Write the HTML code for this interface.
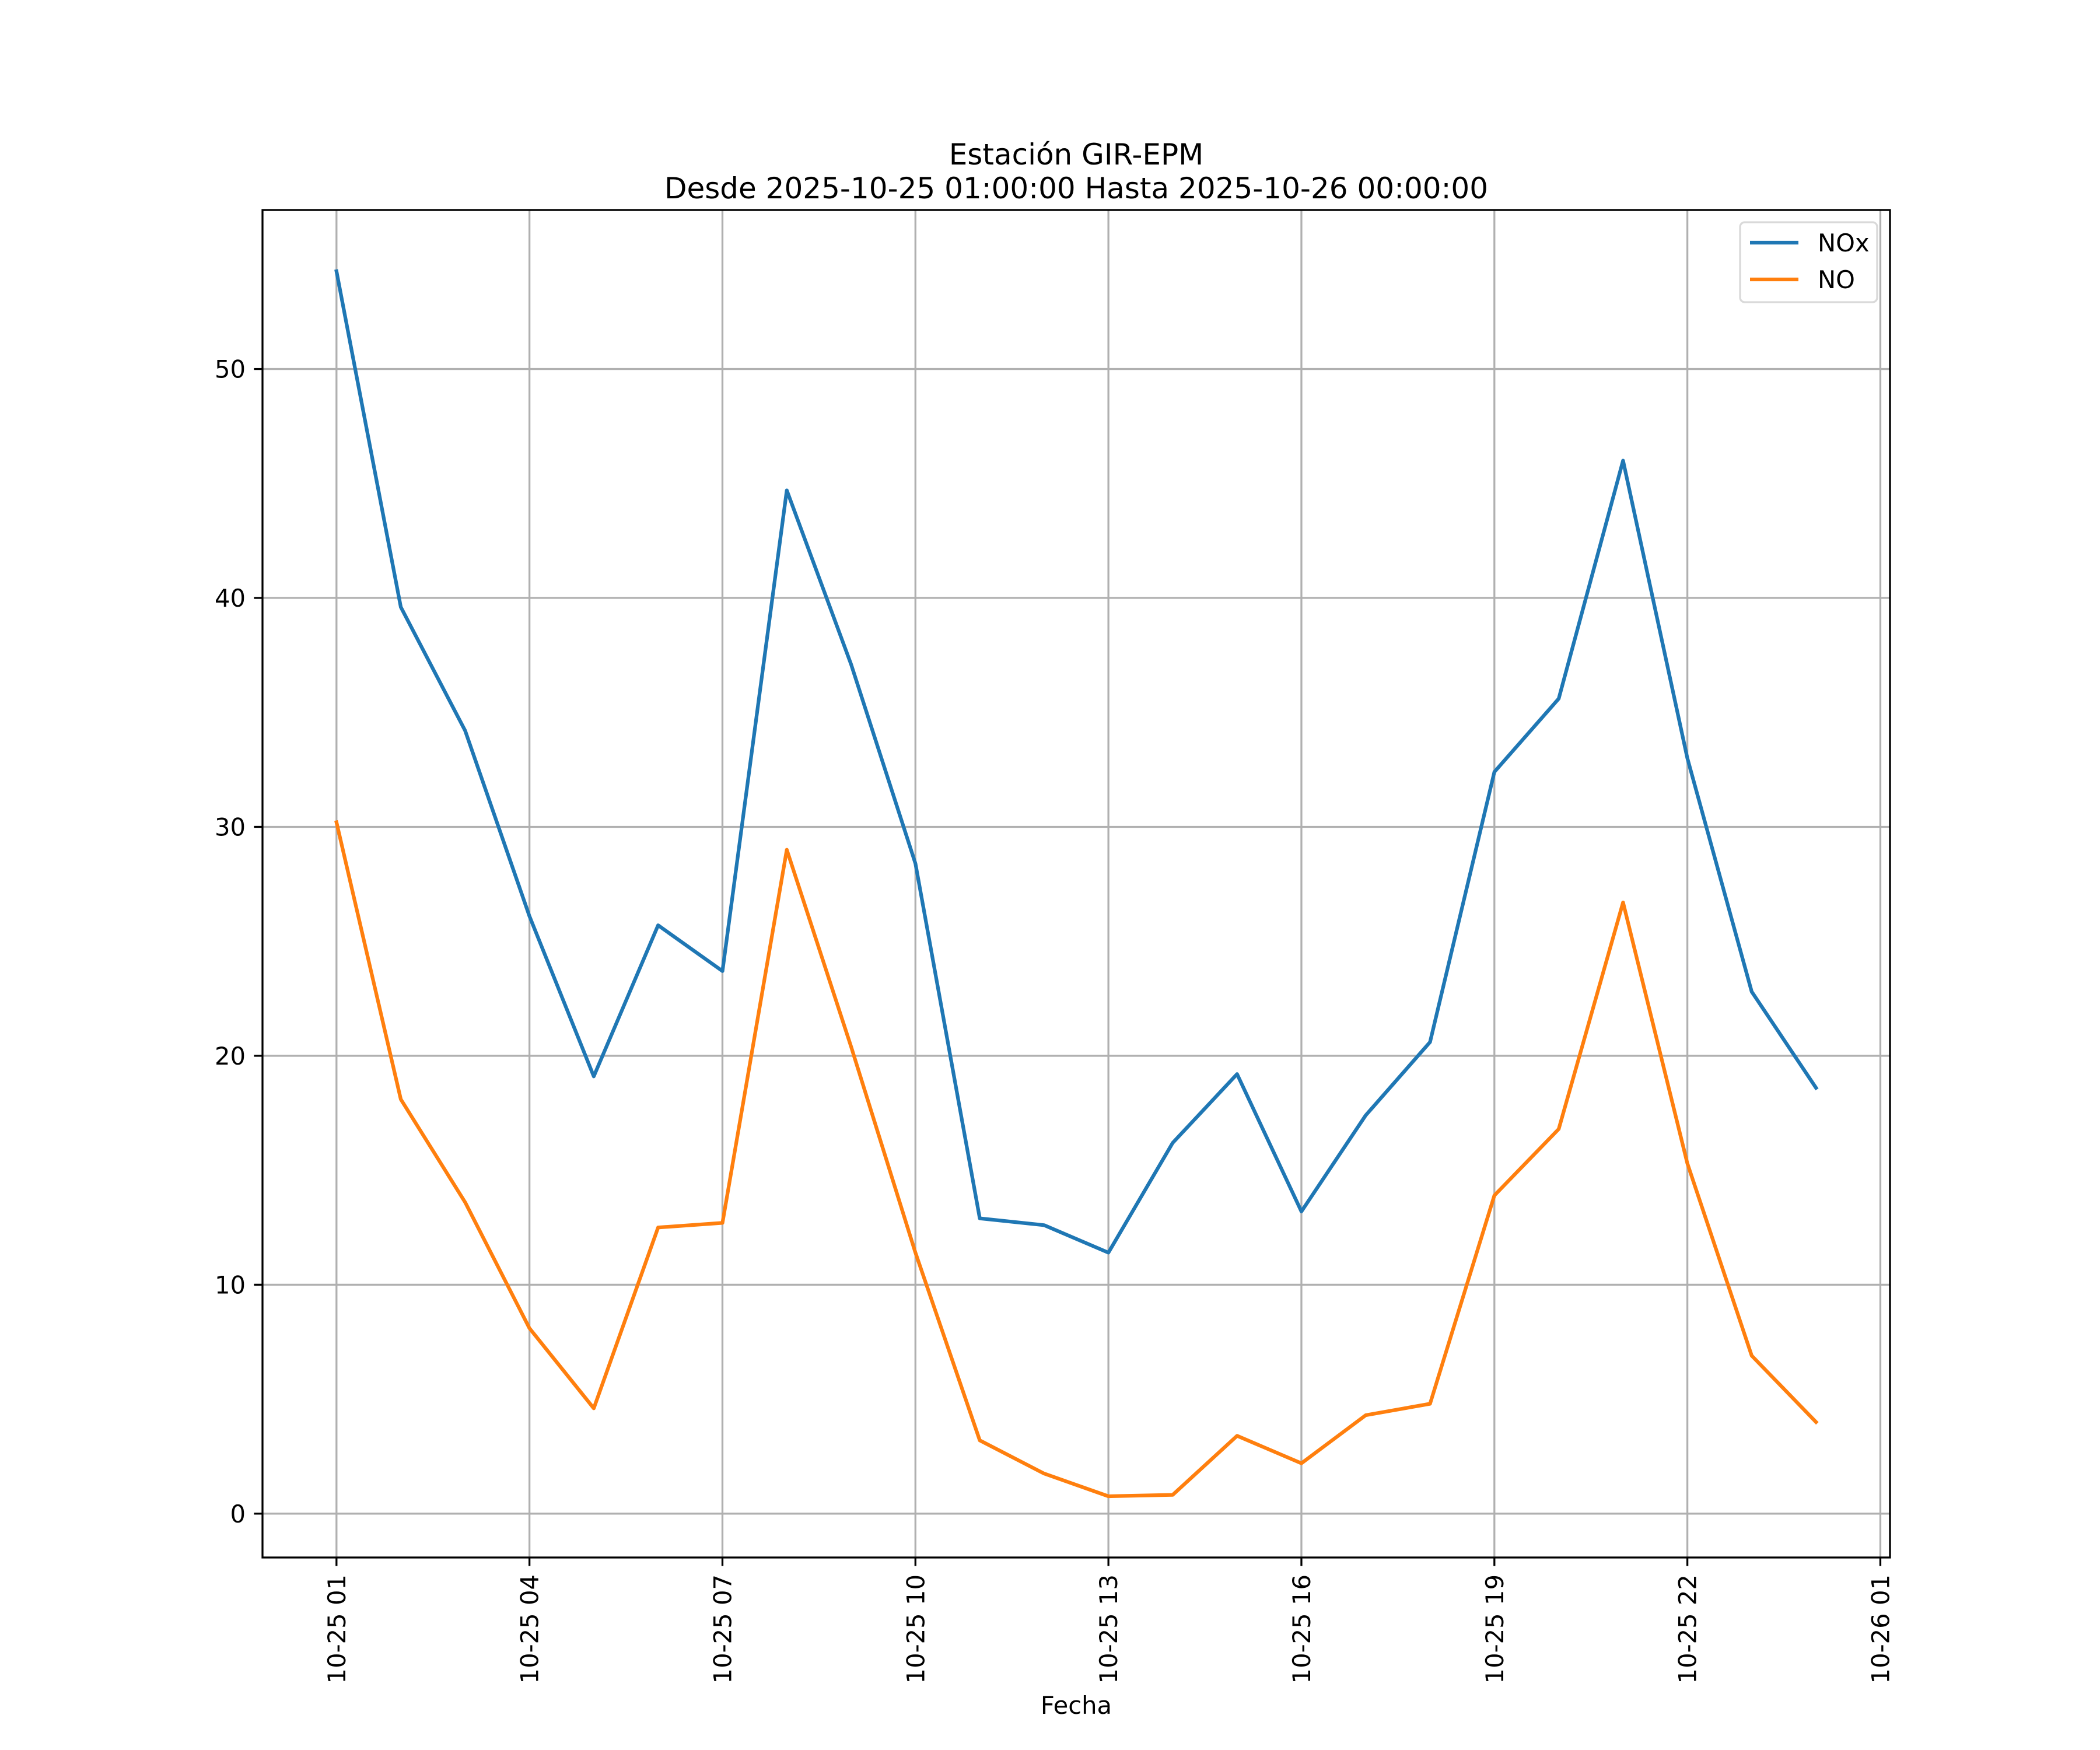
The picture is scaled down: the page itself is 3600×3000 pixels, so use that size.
<!DOCTYPE html>
<html><head><meta charset="utf-8"><style>
html,body{margin:0;padding:0;background:#fff;}
svg{display:block;font-family:"DejaVu Sans","Liberation Sans",sans-serif;}
</style></head><body>
<svg id="chart" width="3600" height="3000" viewBox="0 0 3600 3000">
<rect x="0" y="0" width="3600" height="3000" fill="#fff"/>
<text x="1845" y="282" font-size="50" text-anchor="middle">Estación GIR-EPM</text>
<text x="1845" y="340" font-size="50" text-anchor="middle">Desde 2025-10-25 01:00:00 Hasta 2025-10-26 00:00:00</text>
<g id="grid"></g>
<g id="series"></g>
<rect x="450" y="360" width="2790" height="2310" fill="none" stroke="#000" stroke-width="3.3"/>
<g id="ticks"></g>
<text x="1845" y="2938" font-size="41.7" text-anchor="middle">Fecha</text>
<g>
<rect x="2983" y="381" width="235" height="137" rx="8" fill="#fff" fill-opacity="0.8" stroke="#d9d9d9" stroke-width="3.3"/>
<line x1="3000" y1="416" x2="3083" y2="416" stroke="#1f77b4" stroke-width="6.25"/>
<text x="3116" y="431" font-size="41.7">NOx</text>
<line x1="3000" y1="479" x2="3083" y2="479" stroke="#ff7f0e" stroke-width="6.25"/>
<text x="3116" y="494" font-size="41.7">NO</text>
</g>
</svg>
<script>
const hours = [1,2,3,4,5,6,7,8,9,10,11,12,13,14,15,16,17,18,19,20,21,22,23,24];
const noxValues = [54.27,39.6,34.2,26.1,19.1,25.7,23.7,44.7,37.1,28.4,12.9,12.6,11.4,16.2,19.2,13.2,17.4,20.6,32.4,35.6,46.0,33.0,22.8,18.6];
const noValues = [30.2,18.1,13.6,8.1,4.6,12.5,12.7,29.0,20.4,11.4,3.2,1.75,0.76,0.82,3.4,2.2,4.3,4.8,13.9,16.8,26.7,15.3,6.9,4.0];
const xTickHours = [1,4,7,10,13,16,19,22,25];
const xTickLabels = ["10-25 01","10-25 04","10-25 07","10-25 10","10-25 13","10-25 16","10-25 19","10-25 22","10-26 01"];
const yTicks = [0,10,20,30,40,50];

const NS = "http://www.w3.org/2000/svg";
const L=450,R=3240,T=360,B=2670;
const xmin0=Math.min(...hours), xmax0=Math.max(...hours);
const xm=(xmax0-xmin0)*0.05, xlo=xmin0-xm, xhi=xmax0+xm;
const all=noxValues.concat(noValues);
const ymin0=Math.min(...all), ymax0=Math.max(...all);
const ym=(ymax0-ymin0)*0.05, ylo=ymin0-ym, yhi=ymax0+ym;
const X=v=>L+(v-xlo)/(xhi-xlo)*(R-L);
const Y=v=>B-(v-ylo)/(yhi-ylo)*(B-T);
function mk(tag,attrs,parent){const e=document.createElementNS(NS,tag);for(const k in attrs)e.setAttribute(k,attrs[k]);parent.appendChild(e);return e;}
const grid=document.getElementById('grid'),ticks=document.getElementById('ticks'),series=document.getElementById('series');
xTickHours.forEach((h,i)=>{
  const x=X(h);
  const g=mk('line',{x1:x,y1:T,x2:x,y2:B,stroke:'#b0b0b0','stroke-width':3.3},grid);
  
  
  const t=mk('line',{x1:x,y1:B,x2:x,y2:B+14.6,stroke:'#000','stroke-width':3.3},ticks);
  
  
  const lb=mk('text',{x:0,y:0,'font-size':41.7,'text-anchor':'end',transform:`translate(${x+15},${B+29}) rotate(-90)`},ticks);
  lb.textContent=xTickLabels[i];
  
  
});
yTicks.forEach(v=>{
  const y=Y(v);
  const g=mk('line',{x1:L,y1:y,x2:R,y2:y,stroke:'#b0b0b0','stroke-width':3.3},grid);
  
  
  const t=mk('line',{x1:L-14.6,y1:y,x2:L,y2:y,stroke:'#000','stroke-width':3.3},ticks);
  
  
  const lb=mk('text',{x:L-29,y:y+15,'font-size':41.7,'text-anchor':'end'},ticks);
  lb.textContent=String(v);
  
  
});
function drawLine(vals,color,name){
  const pts=hours.map((h,i)=>X(h).toFixed(1)+','+Y(vals[i]).toFixed(1)).join(' ');
  const p=mk('polyline',{points:pts,fill:'none',stroke:color,'stroke-width':6.25,'stroke-linejoin':'round','stroke-linecap':'square'},series);
  
  
}
drawLine(noxValues,'#1f77b4','nox-line');
drawLine(noValues,'#ff7f0e','no-line');
</script>
</body></html>
